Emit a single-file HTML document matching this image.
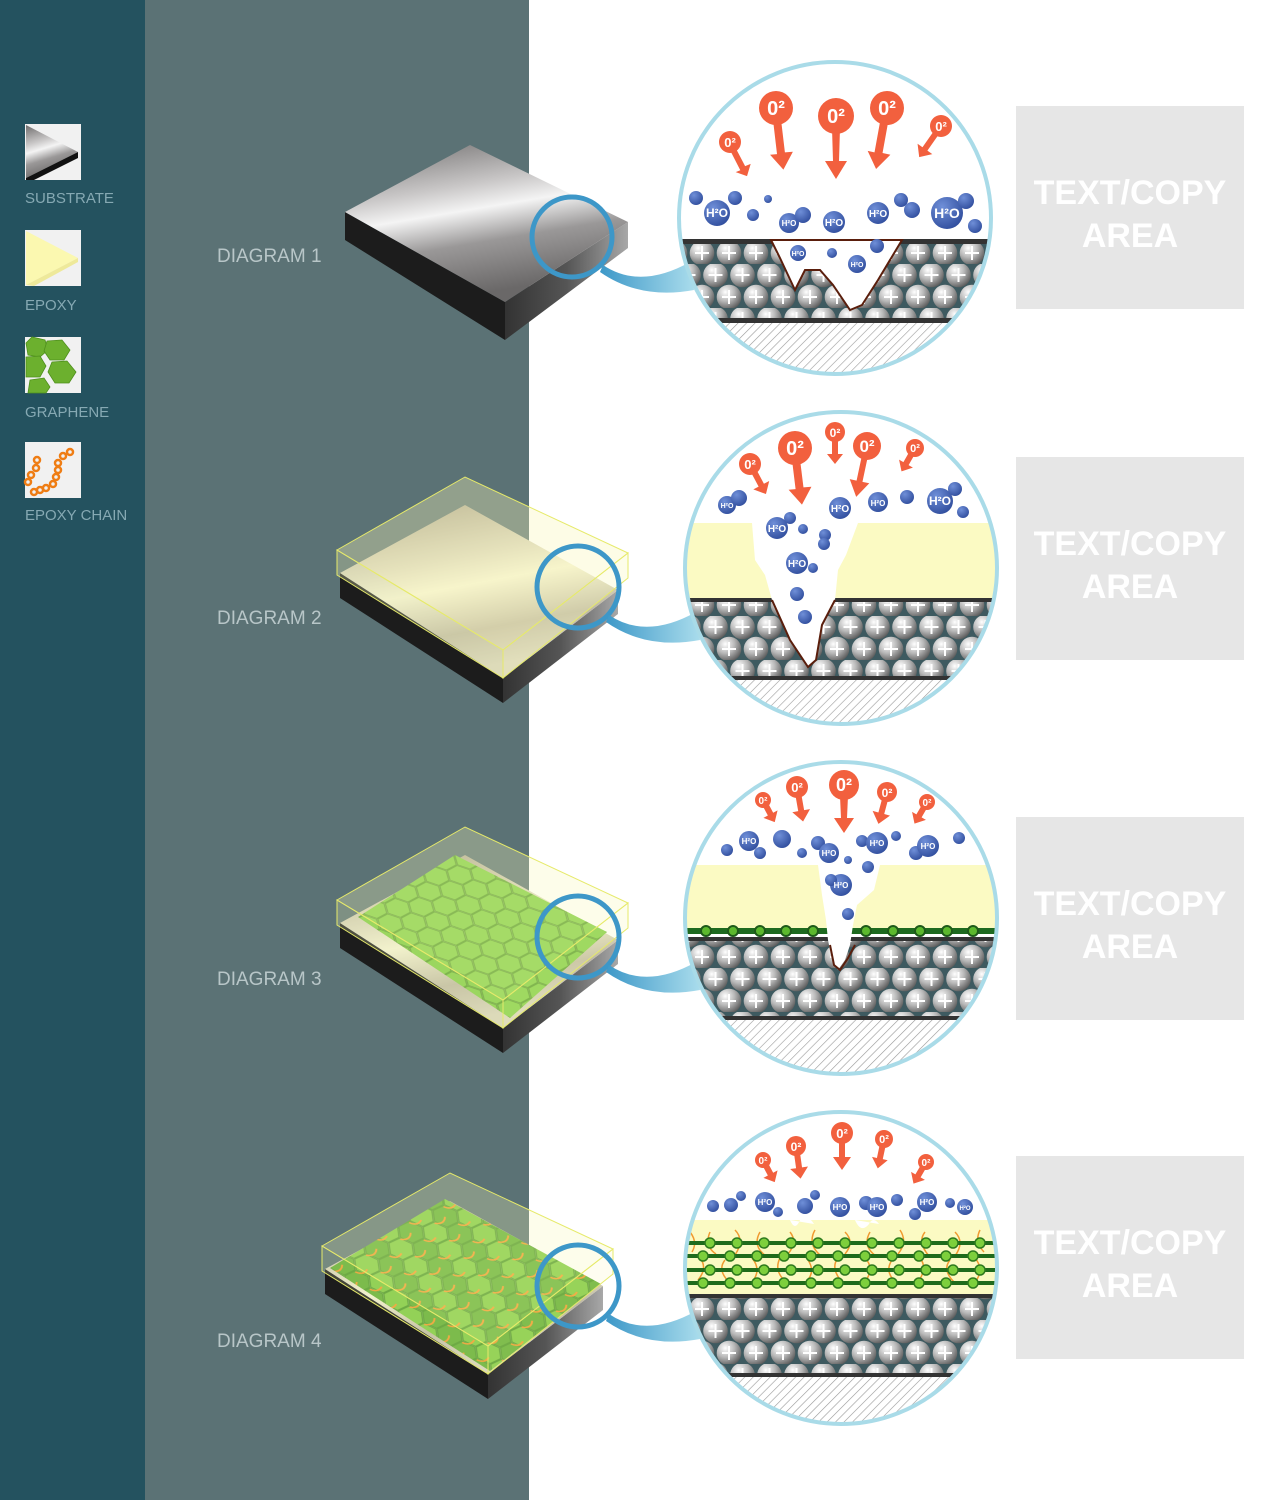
<!DOCTYPE html>
<html><head><meta charset="utf-8"><style>
html,body{margin:0;padding:0;width:1268px;height:1500px;overflow:hidden;background:#fff}
svg{display:block}
.lg{font-family:"Liberation Sans",sans-serif;font-size:15px;fill:#86a9b3}
.dg{font-family:"Liberation Sans",sans-serif;font-size:19px;fill:#b8c6c8}
.tc{font-family:"Liberation Sans",sans-serif;font-weight:bold;font-size:34px;fill:#fff;text-anchor:middle}
.o{font-family:"Liberation Sans",sans-serif;font-weight:bold;fill:#fff;text-anchor:middle}
.h{font-family:"Liberation Sans",sans-serif;font-weight:bold;fill:#fff;text-anchor:middle}
</style></head><body>
<svg width="1268" height="1500" viewBox="0 0 1268 1500" xmlns="http://www.w3.org/2000/svg">
<defs>
<linearGradient id="metal" x1="0" y1="0" x2="0.3" y2="1">
<stop offset="0" stop-color="#6e6c6c"/><stop offset="0.35" stop-color="#c9c7c7"/><stop offset="0.5" stop-color="#f4f4f4"/><stop offset="0.7" stop-color="#9a9898"/><stop offset="1" stop-color="#6a6868"/></linearGradient>
<linearGradient id="metalY" x1="0" y1="0" x2="0.3" y2="1">
<stop offset="0" stop-color="#9e9683"/><stop offset="0.4" stop-color="#dcd8bf"/><stop offset="0.55" stop-color="#f6f4d6"/><stop offset="0.8" stop-color="#bfb9a3"/><stop offset="1" stop-color="#d8d4bd"/></linearGradient>
<linearGradient id="side" x1="0" y1="0" x2="1" y2="0"><stop offset="0" stop-color="#333"/><stop offset="0.5" stop-color="#555"/><stop offset="1" stop-color="#a8a8a8"/></linearGradient>
<linearGradient id="handle" x1="0" y1="0" x2="1" y2="0"><stop offset="0" stop-color="#3d98c8"/><stop offset="1" stop-color="#a9dcec"/></linearGradient>
<radialGradient id="sph" cx="0.35" cy="0.3" r="0.75"><stop offset="0" stop-color="#ffffff"/><stop offset="0.5" stop-color="#b8b8b8"/><stop offset="1" stop-color="#5a5a5a"/></radialGradient>
<radialGradient id="bub" cx="0.35" cy="0.3" r="0.8"><stop offset="0" stop-color="#6f8fd8"/><stop offset="1" stop-color="#2d4a9a"/></radialGradient>
<pattern id="spheres" width="27" height="44" patternUnits="userSpaceOnUse">
<rect width="27" height="44" fill="#3e5a60"/>
<g id="sp1"><circle cx="13.5" cy="11" r="12.3" fill="url(#sph)"/><path d="M13.5 4v14M6.5 11h14" stroke="#fff" stroke-width="2"/></g>
<use href="#sp1" x="-13.5" y="22"/><use href="#sp1" x="13.5" y="22"/>
</pattern>
<pattern id="hatch" width="6" height="6" patternUnits="userSpaceOnUse" patternTransform="rotate(45)">
<rect width="6" height="6" fill="#fff"/><line x1="0" y1="0" x2="0" y2="6" stroke="#9a9a9a" stroke-width="1.2"/></pattern>
<g id="hx"><polygon points="-8.5,0 -4.25,-7.4 4.25,-7.4 8.5,0 4.25,7.4 -4.25,7.4"/></g>
<pattern id="hex" width="27" height="15.6" patternUnits="userSpaceOnUse" patternTransform="rotate(-28) skewX(20) scale(1.3)">
<g fill="#82cf44" stroke="#5aa02c" stroke-width="0.8">
<use href="#hx" x="0" y="0"/><use href="#hx" x="27" y="0"/><use href="#hx" x="0" y="15.6"/><use href="#hx" x="27" y="15.6"/><use href="#hx" x="13.5" y="7.8"/></g>
</pattern>
<pattern id="hex2" width="27" height="15.6" patternUnits="userSpaceOnUse" patternTransform="rotate(-25) skewX(15) scale(1.4)">
<g fill="#7fcb42" stroke="#4f9a2a" stroke-width="0.8">
<use href="#hx" x="0" y="0"/><use href="#hx" x="27" y="0"/><use href="#hx" x="0" y="15.6"/><use href="#hx" x="27" y="15.6"/></g>
<g fill="#62b034" stroke="#4f9a2a" stroke-width="0.8"><use href="#hx" x="13.5" y="7.8"/></g>
<path d="M4 9 q5 4 9 -1 M17 1 q3 5 8 2" stroke="#f39a2a" stroke-width="1.2" fill="none"/>
</pattern>
<clipPath id="c1"><circle cx="835" cy="218" r="155"/></clipPath>
<clipPath id="c2"><circle cx="841" cy="568" r="155"/></clipPath>
<clipPath id="c3"><circle cx="841" cy="918" r="155"/></clipPath>
<clipPath id="c4"><circle cx="841" cy="1268" r="155"/></clipPath>
</defs>

<rect x="0" y="0" width="145" height="1500" fill="#24525f"/>
<rect x="145" y="0" width="384" height="1500" fill="#5b7275"/>

<!-- legend -->
<rect x="25" y="124" width="56" height="56" fill="#f1f1f1"/>
<polygon points="26,125 78,152 26,178" fill="url(#metal)"/><polygon points="26,178 78,152 78,158 34,180 26,180" fill="#111"/>
<rect x="25" y="230" width="56" height="56" fill="#f1f1f1"/>
<polygon points="26,231 78,258 26,285" fill="#fbf8b0"/><polygon points="26,285 78,258 78,262 34,286" fill="#eee99a"/>
<rect x="25" y="337" width="56" height="56" fill="#f1f1f1"/>
<g fill="#6cb02e" stroke="#4e8f1c" stroke-width="0.8">
<polygon points="26,343 32,337 45,340 48,350 40,357 28,355"/>
<polygon points="47,341 62,340 70,350 64,360 50,360 44,351"/>
<polygon points="26,357 40,356 46,366 40,377 26,377"/>
<polygon points="52,362 67,361 76,372 69,383 55,383 48,372"/>
<polygon points="30,380 44,378 50,387 46,393 28,393"/></g>
<rect x="25" y="442" width="56" height="56" fill="#f1f1f1"/>
<g fill="none" stroke="#ef7d14" stroke-width="2.5">
<circle cx="37" cy="460" r="3"/><circle cx="36" cy="468" r="3"/><circle cx="31" cy="475" r="3"/><circle cx="28" cy="482" r="3"/>
<circle cx="70" cy="452" r="3"/><circle cx="63" cy="456" r="3"/><circle cx="58" cy="463" r="3"/><circle cx="58" cy="470" r="3"/><circle cx="56" cy="477" r="3"/><circle cx="53" cy="484" r="3"/><circle cx="46" cy="488" r="3"/><circle cx="40" cy="490" r="3"/><circle cx="34" cy="492" r="3"/></g>
<text class="lg" x="25" y="203">SUBSTRATE</text>
<text class="lg" x="25" y="310">EPOXY</text>
<text class="lg" x="25" y="417">GRAPHENE</text>
<text class="lg" x="25" y="520">EPOXY CHAIN</text>

<text class="dg" x="217" y="262">DIAGRAM 1</text>
<text class="dg" x="217" y="624">DIAGRAM 2</text>
<text class="dg" x="217" y="985">DIAGRAM 3</text>
<text class="dg" x="217" y="1347">DIAGRAM 4</text>

<!-- slab 1 -->
<polygon points="345,212 505,302 505,340 345,240" fill="#1c1c1c"/>
<polygon points="505,302 628,222 628,248 505,340" fill="url(#side)"/>
<polygon points="345,212 470,145 628,222 505,302" fill="url(#metal)"/>

<!-- slab 2 -->
<g>
<polygon points="340,573 503,678 503,703 340,598" fill="#1c1c1c"/>
<polygon points="503,678 618,590 618,614 503,703" fill="url(#side)"/>
<polygon points="340,573 465,505 618,590 503,678" fill="url(#metalY)"/>
<polygon points="337,550 465,477 628,553 503,650" fill="#f8f7b8" fill-opacity="0.35" stroke="#e6ea6a" stroke-width="1"/>
<polygon points="337,550 503,650 503,678 337,575" fill="#e8ecb0" fill-opacity="0.3" stroke="#e6ea6a" stroke-width="1"/>
<polygon points="503,650 628,553 628,578 503,678" fill="#f8f7b8" fill-opacity="0.3" stroke="#e6ea6a" stroke-width="1"/>
</g>
<!-- slab 3 -->
<g transform="translate(0,350)">
<polygon points="340,573 503,678 503,703 340,598" fill="#1c1c1c"/>
<polygon points="503,678 618,590 618,614 503,703" fill="url(#side)"/>
<polygon points="340,573 465,505 618,590 503,678" fill="url(#metalY)"/>
<polygon points="358,567 455,505 607,582 510,668" fill="url(#hex)"/>
<polygon points="337,550 465,477 628,553 503,650" fill="#f8f7b8" fill-opacity="0.3" stroke="#e6ea6a" stroke-width="1"/>
<polygon points="337,550 503,650 503,678 337,575" fill="#e8ecb0" fill-opacity="0.25" stroke="#e6ea6a" stroke-width="1"/>
<polygon points="503,650 628,553 628,578 503,678" fill="#f8f7b8" fill-opacity="0.25" stroke="#e6ea6a" stroke-width="1"/>
</g>
<!-- slab 4 -->
<g transform="translate(-15,696)">
<polygon points="340,573 503,678 503,703 340,598" fill="#1c1c1c"/>
<polygon points="503,678 618,590 618,614 503,703" fill="url(#side)"/>
<polygon points="340,573 465,505 618,590 503,678" fill="url(#metalY)"/>
<polygon points="345,572 460,503 616,588 505,675" fill="url(#hex2)"/>
<polygon points="337,550 465,477 628,553 503,650" fill="#f8f7b8" fill-opacity="0.28" stroke="#e6ea6a" stroke-width="1"/>
<polygon points="337,550 503,650 503,678 337,575" fill="#e8ecb0" fill-opacity="0.2" stroke="#e6ea6a" stroke-width="1"/>
<polygon points="503,650 628,553 628,578 503,678" fill="#f8f7b8" fill-opacity="0.2" stroke="#e6ea6a" stroke-width="1"/>
</g>

<!-- magnifiers + handles -->
<g fill="none" stroke="#3d97c8" stroke-width="5">
<circle cx="572" cy="237" r="40"/><circle cx="578" cy="587" r="41"/><circle cx="578" cy="937" r="41"/><circle cx="578" cy="1286" r="41"/></g>
<path d="M603 265 Q640 290 690 262 L694 290 Q640 300 600 272Z" fill="url(#handle)"/>
<path d="M609 615 Q646 640 696 612 L700 640 Q646 650 606 622Z" fill="url(#handle)"/>
<path d="M609 965 Q646 990 696 962 L700 990 Q646 1000 606 972Z" fill="url(#handle)"/>
<path d="M609 1314 Q646 1339 696 1311 L700 1339 Q646 1349 606 1321Z" fill="url(#handle)"/>

<!-- circle 1 -->
<g clip-path="url(#c1)">
<rect x="670" y="50" width="340" height="340" fill="#fff"/>
<rect x="670" y="239" width="340" height="5" fill="#333"/>
<rect x="670" y="244" width="340" height="75" fill="url(#spheres)"/>
<rect x="670" y="318" width="340" height="5" fill="#333"/>
<rect x="670" y="323" width="340" height="70" fill="url(#hatch)"/>
<path d="M771 240 L780 258 L795 290 L805 270 L820 270 L833 285 L850 310 L862 305 L878 280 L893 255 L902 240 Z" fill="#fff" stroke="#5a1e0c" stroke-width="2"/>
</g>
<!-- circle 2 -->
<g clip-path="url(#c2)">
<rect x="670" y="400" width="340" height="340" fill="#fff"/>
<rect x="670" y="523" width="340" height="77" fill="#fbfac3"/>
<rect x="670" y="598" width="340" height="4" fill="#333"/>
<rect x="670" y="602" width="340" height="74" fill="url(#spheres)"/>
<rect x="670" y="676" width="340" height="4" fill="#333"/>
<rect x="670" y="680" width="340" height="70" fill="url(#hatch)"/>
<path d="M752 523 L755 560 L765 575 L772 600 L790 640 L808 667 L816 660 L822 625 L835 600 L838 570 L846 555 L858 523 Z" fill="#fff"/>
<path d="M772 600 L790 640 L808 667 L816 660 L822 625 L835 600" fill="none" stroke="#5a1e0c" stroke-width="2"/>
</g>
<!-- circle 3 -->
<g clip-path="url(#c3)">
<rect x="670" y="750" width="340" height="340" fill="#fff"/>
<rect x="670" y="865" width="340" height="68" fill="#fbfac3"/>
<rect x="670" y="928" width="340" height="6" fill="#1e6a20"/>
<g fill="#5cb82e" stroke="#1e5a1a" stroke-width="2">
<circle cx="706" cy="931" r="5"/><circle cx="733" cy="931" r="5"/><circle cx="760" cy="931" r="5"/><circle cx="786" cy="931" r="5"/><circle cx="813" cy="931" r="5"/><circle cx="866" cy="931" r="5"/><circle cx="893" cy="931" r="5"/><circle cx="920" cy="931" r="5"/><circle cx="947" cy="931" r="5"/><circle cx="973" cy="931" r="5"/></g>
<rect x="670" y="937" width="340" height="4" fill="#333"/>
<rect x="670" y="941" width="340" height="75" fill="url(#spheres)"/>
<rect x="670" y="1016" width="340" height="4" fill="#333"/>
<rect x="670" y="1020" width="340" height="70" fill="url(#hatch)"/>
<path d="M818 865 L822 895 L826 920 L828 940 L832 960 L838 970 L845 960 L850 945 L853 925 L857 905 L874 890 L880 865 Z" fill="#fff"/>
<path d="M830 945 L834 965 L840 970 L848 958 L855 945" fill="none" stroke="#5a1e0c" stroke-width="2"/>
</g>
<!-- circle 4 -->
<g clip-path="url(#c4)">
<rect x="670" y="1100" width="340" height="340" fill="#fff"/>
<rect x="670" y="1220" width="340" height="76" fill="#fbfac3"/>
<path d="M790 1220 q5 12 10 0 q8 -6 14 4 M855 1220 q6 14 14 4 q4 -8 10 0" fill="#fff"/>
<g stroke="#f09a30" stroke-width="1.5" fill="none">
<path d="M690 1232 q8 10 2 20 M710 1232 q-6 14 6 22 M735 1230 q10 10 0 25 M760 1232 q-8 14 6 24 M790 1232 q8 10 -2 22 M815 1230 q-8 14 6 26 M845 1232 q10 10 0 22 M870 1232 q-8 14 6 24 M900 1230 q8 12 -2 24 M925 1232 q-8 10 4 24 M955 1232 q10 10 0 24 M980 1230 q-6 12 4 22"/>
<path d="M700 1258 q8 10 -2 22 M725 1260 q-8 10 4 22 M752 1258 q10 12 0 24 M780 1258 q-6 12 4 22 M808 1260 q8 12 -2 22 M838 1258 q-8 10 4 24 M865 1258 q10 10 0 24 M892 1260 q-8 12 4 22 M920 1258 q8 10 -2 24 M950 1260 q-8 10 4 22 M975 1258 q10 12 0 24"/></g>
<g stroke="#1f6b1c" stroke-width="4">
<line x1="670" y1="1243" x2="1010" y2="1243"/><line x1="670" y1="1256" x2="1010" y2="1256"/><line x1="670" y1="1270" x2="1010" y2="1270"/><line x1="670" y1="1283" x2="1010" y2="1283"/></g>
<g fill="#7dcf3c" stroke="#2e7a1e" stroke-width="1.5">
<circle cx="710" cy="1243" r="5"/><circle cx="737" cy="1243" r="5"/><circle cx="764" cy="1243" r="5"/><circle cx="791" cy="1243" r="5"/><circle cx="818" cy="1243" r="5"/><circle cx="845" cy="1243" r="5"/><circle cx="872" cy="1243" r="5"/><circle cx="899" cy="1243" r="5"/><circle cx="926" cy="1243" r="5"/><circle cx="953" cy="1243" r="5"/><circle cx="980" cy="1243" r="5"/>
<circle cx="703" cy="1256" r="5"/><circle cx="730" cy="1256" r="5"/><circle cx="757" cy="1256" r="5"/><circle cx="784" cy="1256" r="5"/><circle cx="811" cy="1256" r="5"/><circle cx="838" cy="1256" r="5"/><circle cx="865" cy="1256" r="5"/><circle cx="892" cy="1256" r="5"/><circle cx="919" cy="1256" r="5"/><circle cx="946" cy="1256" r="5"/><circle cx="973" cy="1256" r="5"/>
<circle cx="710" cy="1270" r="5"/><circle cx="737" cy="1270" r="5"/><circle cx="764" cy="1270" r="5"/><circle cx="791" cy="1270" r="5"/><circle cx="818" cy="1270" r="5"/><circle cx="845" cy="1270" r="5"/><circle cx="872" cy="1270" r="5"/><circle cx="899" cy="1270" r="5"/><circle cx="926" cy="1270" r="5"/><circle cx="953" cy="1270" r="5"/><circle cx="980" cy="1270" r="5"/>
<circle cx="703" cy="1283" r="5"/><circle cx="730" cy="1283" r="5"/><circle cx="757" cy="1283" r="5"/><circle cx="784" cy="1283" r="5"/><circle cx="811" cy="1283" r="5"/><circle cx="838" cy="1283" r="5"/><circle cx="865" cy="1283" r="5"/><circle cx="892" cy="1283" r="5"/><circle cx="919" cy="1283" r="5"/><circle cx="946" cy="1283" r="5"/><circle cx="973" cy="1283" r="5"/></g>
<rect x="670" y="1294" width="340" height="4" fill="#333"/>
<rect x="670" y="1298" width="340" height="75" fill="url(#spheres)"/>
<rect x="670" y="1373" width="340" height="4" fill="#333"/>
<rect x="670" y="1377" width="340" height="70" fill="url(#hatch)"/>
</g>

<!-- O2 markers -->
<g fill="#f2603e">
<g transform="translate(776,108)"><circle r="17"/><path d="M-4 12 L4 12 L5 45 L13 45 L2 62 L-10 46 L-3 46Z" transform="rotate(-5)"/><text class="o" y="7" font-size="20">0²</text></g>
<g transform="translate(836,116)"><circle r="18"/><path d="M-4 12 L4 12 L3 45 L11 45 L0 63 L-11 45 L-3 45Z"/><text class="o" y="7" font-size="20">0²</text></g>
<g transform="translate(887,108)"><circle r="17"/><path d="M-4 12 L4 12 L5 45 L13 45 L2 62 L-10 46 L-3 46Z" transform="rotate(12)"/><text class="o" y="7" font-size="20">0²</text></g>
<g transform="translate(730,142)"><circle r="11"/><path d="M-3 8 L3 8 L5 28 L11 28 L3 38 L-6 30 L-1 30Z" transform="rotate(-22)"/><text class="o" y="5" font-size="13">0²</text></g>
<g transform="translate(941,126)"><circle r="11"/><path d="M-3 8 L3 8 L3 28 L9 28 L0 38 L-9 28 L-3 28Z" transform="rotate(35)"/><text class="o" y="5" font-size="13">0²</text></g>
<g transform="translate(795,448)"><circle r="17"/><path d="M-4 12 L4 12 L5 40 L13 40 L2 57 L-10 41 L-3 41Z" transform="rotate(-5)"/><text class="o" y="7" font-size="20">0²</text></g>
<g transform="translate(867,446)"><circle r="14"/><path d="M-3 10 L3 10 L3 36 L10 36 L0 52 L-10 36 L-3 36Z" transform="rotate(12)"/><text class="o" y="6" font-size="17">0²</text></g>
<g transform="translate(835,432)"><circle r="10"/><path d="M-3 8 L3 8 L3 22 L8 22 L0 32 L-8 22 L-3 22Z"/><text class="o" y="5" font-size="12">0²</text></g>
<g transform="translate(750,464)"><circle r="11"/><path d="M-3 8 L3 8 L3 24 L9 24 L0 34 L-9 24 L-3 24Z" transform="rotate(-28)"/><text class="o" y="5" font-size="13">0²</text></g>
<g transform="translate(915,448)"><circle r="9"/><path d="M-3 7 L3 7 L3 18 L8 18 L0 27 L-8 18 L-3 18Z" transform="rotate(30)"/><text class="o" y="4" font-size="11">0²</text></g>
<g transform="translate(844,785)"><circle r="15"/><path d="M-4 11 L4 11 L3 33 L10 33 L0 48 L-10 33 L-3 33Z"/><text class="o" y="6" font-size="18">0²</text></g>
<g transform="translate(797,787)"><circle r="11"/><path d="M-3 8 L3 8 L3 24 L9 24 L0 35 L-9 24 L-3 24Z" transform="rotate(-10)"/><text class="o" y="5" font-size="13">0²</text></g>
<g transform="translate(887,792)"><circle r="10"/><path d="M-3 8 L3 8 L3 22 L9 22 L0 33 L-9 22 L-3 22Z" transform="rotate(15)"/><text class="o" y="5" font-size="12">0²</text></g>
<g transform="translate(763,800)"><circle r="8"/><path d="M-3 6 L3 6 L3 16 L8 16 L0 25 L-8 16 L-3 16Z" transform="rotate(-28)"/><text class="o" y="4" font-size="10">0²</text></g>
<g transform="translate(927,802)"><circle r="8"/><path d="M-3 6 L3 6 L3 16 L8 16 L0 25 L-8 16 L-3 16Z" transform="rotate(30)"/><text class="o" y="4" font-size="10">0²</text></g>
<g transform="translate(842,1133)"><circle r="11"/><path d="M-3 8 L3 8 L3 24 L9 24 L0 37 L-9 24 L-3 24Z"/><text class="o" y="5" font-size="13">0²</text></g>
<g transform="translate(796,1146)"><circle r="10"/><path d="M-3 8 L3 8 L3 22 L9 22 L0 33 L-9 22 L-3 22Z" transform="rotate(-8)"/><text class="o" y="5" font-size="12">0²</text></g>
<g transform="translate(884,1139)"><circle r="9"/><path d="M-3 7 L3 7 L3 20 L8 20 L0 30 L-8 20 L-3 20Z" transform="rotate(12)"/><text class="o" y="4" font-size="11">0²</text></g>
<g transform="translate(763,1160)"><circle r="8"/><path d="M-3 6 L3 6 L3 16 L8 16 L0 25 L-8 16 L-3 16Z" transform="rotate(-28)"/><text class="o" y="4" font-size="10">0²</text></g>
<g transform="translate(926,1162)"><circle r="8"/><path d="M-3 6 L3 6 L3 16 L8 16 L0 25 L-8 16 L-3 16Z" transform="rotate(30)"/><text class="o" y="4" font-size="10">0²</text></g>
</g>

<!-- H2O bubbles -->
<g fill="url(#bub)">
<circle cx="717" cy="213" r="13"/><circle cx="735" cy="198" r="7"/><circle cx="696" cy="198" r="7"/><circle cx="753" cy="215" r="6"/><circle cx="768" cy="199" r="4"/>
<circle cx="789" cy="223" r="10"/><circle cx="803" cy="215" r="8"/><circle cx="834" cy="222" r="11"/><circle cx="878" cy="213" r="11"/><circle cx="901" cy="200" r="7"/><circle cx="912" cy="210" r="8"/><circle cx="947" cy="213" r="16"/><circle cx="966" cy="201" r="8"/><circle cx="975" cy="226" r="7"/>
<circle cx="798" cy="253" r="8"/><circle cx="857" cy="264" r="9"/><circle cx="877" cy="246" r="7"/><circle cx="832" cy="253" r="5"/>
<circle cx="727" cy="505" r="9"/><circle cx="739" cy="498" r="8"/><circle cx="840" cy="508" r="11"/><circle cx="878" cy="502" r="10"/><circle cx="907" cy="497" r="7"/><circle cx="940" cy="501" r="13"/><circle cx="955" cy="489" r="7"/><circle cx="963" cy="512" r="6"/>
<circle cx="777" cy="528" r="11"/><circle cx="790" cy="518" r="6"/><circle cx="803" cy="529" r="5"/><circle cx="825" cy="535" r="6"/><circle cx="824" cy="544" r="6"/><circle cx="797" cy="563" r="11"/><circle cx="813" cy="568" r="5"/><circle cx="797" cy="594" r="7"/><circle cx="805" cy="617" r="7"/>
<circle cx="727" cy="850" r="6"/><circle cx="749" cy="841" r="10"/><circle cx="760" cy="853" r="6"/><circle cx="782" cy="839" r="9"/><circle cx="802" cy="853" r="5"/><circle cx="818" cy="843" r="7"/><circle cx="829" cy="853" r="10"/><circle cx="862" cy="841" r="6"/><circle cx="877" cy="843" r="11"/><circle cx="896" cy="836" r="5"/><circle cx="916" cy="853" r="7"/><circle cx="928" cy="846" r="11"/><circle cx="959" cy="838" r="6"/>
<circle cx="841" cy="885" r="11"/><circle cx="831" cy="880" r="6"/><circle cx="848" cy="914" r="6"/><circle cx="868" cy="867" r="6"/><circle cx="848" cy="860" r="4"/>
<circle cx="713" cy="1206" r="6"/><circle cx="731" cy="1205" r="7"/><circle cx="741" cy="1196" r="5"/><circle cx="765" cy="1202" r="10"/><circle cx="778" cy="1212" r="5"/><circle cx="805" cy="1206" r="8"/><circle cx="815" cy="1195" r="5"/><circle cx="840" cy="1207" r="10"/><circle cx="866" cy="1203" r="7"/><circle cx="877" cy="1207" r="10"/><circle cx="897" cy="1200" r="6"/><circle cx="915" cy="1214" r="6"/><circle cx="927" cy="1202" r="10"/><circle cx="950" cy="1203" r="5"/><circle cx="965" cy="1207" r="8"/>
</g>
<g class="h" font-size="10">
<text x="717" y="217" font-size="12">H²O</text><text x="947" y="218" font-size="14">H²O</text><text x="834" y="226">H²O</text><text x="878" y="217">H²O</text><text x="789" y="226" font-size="8">H²O</text><text x="798" y="256" font-size="7">H²O</text><text x="857" y="267" font-size="7">H²O</text>
<text x="840" y="512">H²O</text><text x="940" y="505" font-size="12">H²O</text><text x="777" y="532">H²O</text><text x="797" y="567">H²O</text><text x="878" y="506" font-size="8">H²O</text><text x="727" y="508" font-size="7">H²O</text>
<text x="749" y="844" font-size="8">H²O</text><text x="877" y="846" font-size="8">H²O</text><text x="841" y="888" font-size="8">H²O</text><text x="928" y="849" font-size="8">H²O</text><text x="829" y="856" font-size="8">H²O</text>
<text x="765" y="1205" font-size="8">H²O</text><text x="840" y="1210" font-size="8">H²O</text><text x="877" y="1210" font-size="8">H²O</text><text x="927" y="1205" font-size="8">H²O</text><text x="965" y="1210" font-size="6">H²O</text>
</g>

<!-- big circle outlines -->
<g fill="none" stroke="#a9dbe8" stroke-width="4">
<circle cx="835" cy="218" r="156"/><circle cx="841" cy="568" r="156"/><circle cx="841" cy="918" r="156"/><circle cx="841" cy="1268" r="156"/></g>

<!-- text boxes -->
<g fill="#e6e6e6"><rect x="1016" y="106" width="228" height="203"/><rect x="1016" y="457" width="228" height="203"/><rect x="1016" y="817" width="228" height="203"/><rect x="1016" y="1156" width="228" height="203"/></g>
<text class="tc" x="1130" y="204">TEXT/COPY</text><text class="tc" x="1130" y="247">AREA</text>
<text class="tc" x="1130" y="555">TEXT/COPY</text><text class="tc" x="1130" y="598">AREA</text>
<text class="tc" x="1130" y="915">TEXT/COPY</text><text class="tc" x="1130" y="958">AREA</text>
<text class="tc" x="1130" y="1254">TEXT/COPY</text><text class="tc" x="1130" y="1297">AREA</text>
</svg>
</body></html>
